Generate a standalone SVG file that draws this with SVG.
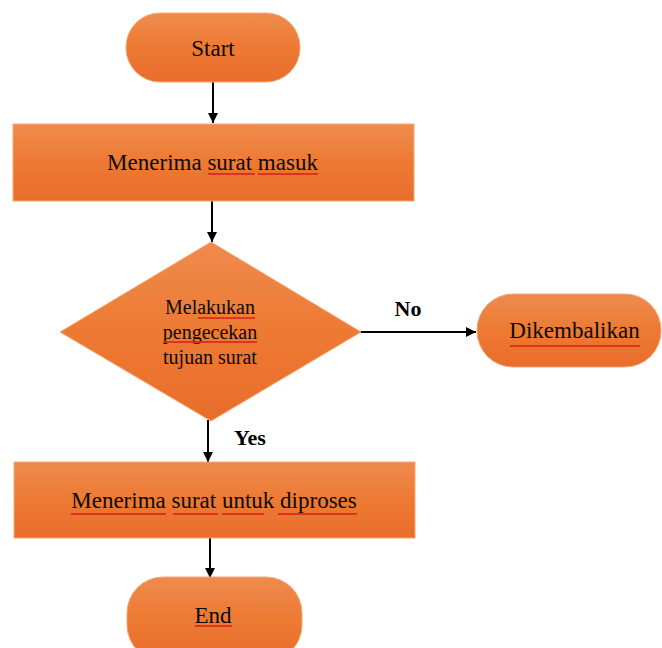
<svg xmlns="http://www.w3.org/2000/svg" width="662" height="648" viewBox="0 0 662 648">
  <defs>
    <linearGradient id="orangeFill" x1="0" y1="0" x2="0" y2="1">
      <stop offset="0" stop-color="#EF8B4D"/>
      <stop offset="0.5" stop-color="#ED7A33"/>
      <stop offset="1" stop-color="#E86D2B"/>
    </linearGradient>
    <marker id="arrowHead" viewBox="0 0 10 10" refX="10" refY="5" markerWidth="10" markerHeight="10" markerUnits="userSpaceOnUse" orient="auto">
      <path d="M0,0 L10,5 L0,10 Z" fill="#000"/>
    </marker>
    <!-- wavy spell-check underline -->
    <pattern id="squiggle" width="4" height="4" patternUnits="userSpaceOnUse">
      <path d="M0,3 L1,1 L2,3 L3,1 L4,3" fill="none" stroke="#E0201C" stroke-width="1"/>
    </pattern>
  </defs>
  <style>
    .shape { fill: url(#orangeFill); stroke: #F3A877; stroke-width: 1; }
    .label { font-family: "Liberation Serif", "Times New Roman", serif; fill: #0A0A0A; text-anchor: middle; }
    .main { font-size: 23px; }
    .small { font-size: 20px; }
    .branch { font-family: "Liberation Serif", "Times New Roman", serif; font-size: 22px; font-weight: bold; fill: #000; text-anchor: middle; }
    .conn { stroke: #000; stroke-width: 2; fill: none; marker-end: url(#arrowHead); }
    .wave { fill: url(#squiggle); }
  </style>

  <!-- connectors -->
  <g id="connectors">
    <line class="conn" x1="213" y1="82" x2="213" y2="123"/>
    <line class="conn" x1="212" y1="201" x2="212" y2="242"/>
    <line class="conn" x1="360" y1="332" x2="476" y2="332"/>
    <line class="conn" x1="208" y1="420" x2="208" y2="462"/>
    <line class="conn" x1="210" y1="538" x2="210" y2="578"/>
    <text class="branch" x="408" y="316">No</text>
    <text class="branch" x="250" y="445">Yes</text>
  </g>

  <g id="start">
    <rect class="shape" x="126" y="13" width="174" height="69" rx="34" ry="34"/>
    <text class="label main" x="213" y="56">Start</text>
  </g>

  <g id="receive">
    <rect class="shape" x="13" y="124" width="401" height="77"/>
    <text class="label main" x="212.5" y="170">Menerima surat masuk</text>
    <rect class="wave" x="208" y="172" width="47" height="4"/>
    <rect class="wave" x="258" y="172" width="60" height="4"/>
  </g>

  <g id="check">
    <polygon class="shape" points="211,242 361,332 211,421 60,332"/>
    <text class="label small" x="210" y="314">Melakukan</text>
    <text class="label small" x="210" y="339">pengecekan</text>
    <text class="label small" x="210" y="364">tujuan surat</text>
    <rect class="wave" x="198" y="315" width="57" height="4"/>
    <rect class="wave" x="163" y="340" width="94" height="4"/>
  </g>

  <g id="returned">
    <rect class="shape" x="477" y="294" width="184" height="73" rx="36" ry="36"/>
    <text class="label main" x="574.5" y="338">Dikembalikan</text>
    <rect class="wave" x="510" y="345" width="130" height="4"/>
  </g>

  <g id="process">
    <rect class="shape" x="14" y="462" width="401" height="76"/>
    <text class="label main" x="214" y="508">Menerima surat untuk diproses</text>
    <rect class="wave" x="71" y="512" width="95" height="4"/>
    <rect class="wave" x="173" y="512" width="45" height="4"/>
    <rect class="wave" x="222" y="512" width="42" height="4"/>
    <rect class="wave" x="278" y="512" width="79" height="4"/>
  </g>

  <g id="end">
    <rect class="shape" x="127" y="577" width="175" height="84" rx="36" ry="36"/>
    <text class="label main" x="213" y="623">End</text>
    <rect class="wave" x="195" y="625" width="37" height="4"/>
  </g>
</svg>
